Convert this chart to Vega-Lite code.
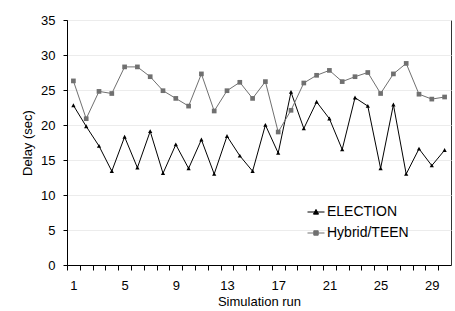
{
  "$schema": "https://vega.github.io/schema/vega-lite/v6.json",
  "width": 384,
  "height": 245,
  "autosize": "none",
  "padding": {"left": 67, "top": 20, "right": 4, "bottom": 46},
  "background": "white",
  "config": {
    "font": "Liberation Sans",
    "view": {"stroke": "#333", "strokeWidth": 1},
    "axis": {"labelFont": "Liberation Sans", "titleFont": "Liberation Sans", "labelColor": "#000", "titleColor": "#000", "domainColor": "#000", "tickColor": "#000"}
  },
  "data": {
    "values": [
      {"run": 1, "series": "ELECTION", "delay": 22.8},
      {"run": 2, "series": "ELECTION", "delay": 19.8},
      {"run": 3, "series": "ELECTION", "delay": 17.0},
      {"run": 4, "series": "ELECTION", "delay": 13.4},
      {"run": 5, "series": "ELECTION", "delay": 18.3},
      {"run": 6, "series": "ELECTION", "delay": 13.9},
      {"run": 7, "series": "ELECTION", "delay": 19.1},
      {"run": 8, "series": "ELECTION", "delay": 13.1},
      {"run": 9, "series": "ELECTION", "delay": 17.2},
      {"run": 10, "series": "ELECTION", "delay": 13.8},
      {"run": 11, "series": "ELECTION", "delay": 17.9},
      {"run": 12, "series": "ELECTION", "delay": 13.0},
      {"run": 13, "series": "ELECTION", "delay": 18.4},
      {"run": 14, "series": "ELECTION", "delay": 15.6},
      {"run": 15, "series": "ELECTION", "delay": 13.4},
      {"run": 16, "series": "ELECTION", "delay": 20.0},
      {"run": 17, "series": "ELECTION", "delay": 16.0},
      {"run": 18, "series": "ELECTION", "delay": 24.7},
      {"run": 19, "series": "ELECTION", "delay": 19.5},
      {"run": 20, "series": "ELECTION", "delay": 23.3},
      {"run": 21, "series": "ELECTION", "delay": 20.9},
      {"run": 22, "series": "ELECTION", "delay": 16.5},
      {"run": 23, "series": "ELECTION", "delay": 23.9},
      {"run": 24, "series": "ELECTION", "delay": 22.7},
      {"run": 25, "series": "ELECTION", "delay": 13.8},
      {"run": 26, "series": "ELECTION", "delay": 22.9},
      {"run": 27, "series": "ELECTION", "delay": 13.0},
      {"run": 28, "series": "ELECTION", "delay": 16.6},
      {"run": 29, "series": "ELECTION", "delay": 14.2},
      {"run": 30, "series": "ELECTION", "delay": 16.4},
      {"run": 1, "series": "Hybrid/TEEN", "delay": 26.3},
      {"run": 2, "series": "Hybrid/TEEN", "delay": 20.9},
      {"run": 3, "series": "Hybrid/TEEN", "delay": 24.8},
      {"run": 4, "series": "Hybrid/TEEN", "delay": 24.5},
      {"run": 5, "series": "Hybrid/TEEN", "delay": 28.3},
      {"run": 6, "series": "Hybrid/TEEN", "delay": 28.3},
      {"run": 7, "series": "Hybrid/TEEN", "delay": 26.9},
      {"run": 8, "series": "Hybrid/TEEN", "delay": 24.9},
      {"run": 9, "series": "Hybrid/TEEN", "delay": 23.8},
      {"run": 10, "series": "Hybrid/TEEN", "delay": 22.7},
      {"run": 11, "series": "Hybrid/TEEN", "delay": 27.3},
      {"run": 12, "series": "Hybrid/TEEN", "delay": 22.0},
      {"run": 13, "series": "Hybrid/TEEN", "delay": 24.9},
      {"run": 14, "series": "Hybrid/TEEN", "delay": 26.1},
      {"run": 15, "series": "Hybrid/TEEN", "delay": 23.8},
      {"run": 16, "series": "Hybrid/TEEN", "delay": 26.2},
      {"run": 17, "series": "Hybrid/TEEN", "delay": 19.0},
      {"run": 18, "series": "Hybrid/TEEN", "delay": 22.1},
      {"run": 19, "series": "Hybrid/TEEN", "delay": 26.0},
      {"run": 20, "series": "Hybrid/TEEN", "delay": 27.1},
      {"run": 21, "series": "Hybrid/TEEN", "delay": 27.8},
      {"run": 22, "series": "Hybrid/TEEN", "delay": 26.2},
      {"run": 23, "series": "Hybrid/TEEN", "delay": 26.9},
      {"run": 24, "series": "Hybrid/TEEN", "delay": 27.5},
      {"run": 25, "series": "Hybrid/TEEN", "delay": 24.5},
      {"run": 26, "series": "Hybrid/TEEN", "delay": 27.3},
      {"run": 27, "series": "Hybrid/TEEN", "delay": 28.8},
      {"run": 28, "series": "Hybrid/TEEN", "delay": 24.4},
      {"run": 29, "series": "Hybrid/TEEN", "delay": 23.7},
      {"run": 30, "series": "Hybrid/TEEN", "delay": 24.0}
    ]
  },
  "encoding": {
    "x": {
      "field": "run", "type": "quantitative",
      "scale": {"domain": [0.5, 30.5], "nice": false, "zero": false},
      "axis": {
        "title": "Simulation run", "titleFontSize": 13, "titleFontWeight": "normal", "titlePadding": 3,
        "values": [1,2,3,4,5,6,7,8,9,10,11,12,13,14,15,16,17,18,19,20,21,22,23,24,25,26,27,28,29,30,31],
        "tickOffset": -6.4, "labelOffset": 6.4,
        "labelExpr": "((datum.value - 1) % 4 === 0 && datum.value <= 29) ? datum.label : ''",
        "labelFontSize": 13, "labelPadding": 9, "tickSize": 5, "grid": false, "labelFlush": false, "labelOverlap": false
      }
    },
    "y": {
      "field": "delay", "type": "quantitative",
      "scale": {"domain": [0, 35], "nice": false},
      "axis": {
        "title": "Delay (sec)", "titleFontSize": 13, "titleFontWeight": "normal", "titlePadding": 6,
        "values": [0, 5, 10, 15, 20, 25, 30, 35],
        "labelFontSize": 13, "labelPadding": 8, "tickSize": 4,
        "grid": true, "gridColor": "#ececec", "gridWidth": 1
      }
    }
  },
  "layer": [
    {
      "mark": {"type": "line", "strokeWidth": 1},
      "encoding": {
        "color": {
          "field": "series", "type": "nominal",
          "scale": {"domain": ["ELECTION", "Hybrid/TEEN"], "range": ["#000000", "#707070"]},
          "legend": {
            "title": null, "orient": "none", "legendX": 240, "legendY": 183,
            "labelFontSize": 14, "labelColor": "#000", "labelOffset": 2,
            "symbolSize": 289, "symbolStrokeWidth": 1, "rowPadding": 5,
            "encode": {
              "symbols": {
                "update": {
                  "shape": {"signal": "datum.value === 'ELECTION' ? 'M-1,0H1M-0.3,0.25L0,-0.3L0.3,0.25Z' : 'M-1,0H1M-0.26,-0.26H0.26V0.26H-0.26Z'"},
                  "fill": {"signal": "datum.value === 'ELECTION' ? '#000000' : '#707070'"},
                  "stroke": {"signal": "datum.value === 'ELECTION' ? '#000000' : '#707070'"}
                }
              }
            }
          }
        }
      }
    },
    {
      "transform": [{"filter": "datum.series === 'ELECTION'"}],
      "mark": {"type": "point", "filled": true, "opacity": 1, "color": "#000000", "shape": "M-0.9,0.75L0,-0.9L0.9,0.75Z", "size": 22}
    },
    {
      "transform": [{"filter": "datum.series === 'Hybrid/TEEN'"}],
      "mark": {"type": "point", "filled": true, "opacity": 1, "color": "#707070", "shape": "square", "size": 22}
    }
  ]
}
